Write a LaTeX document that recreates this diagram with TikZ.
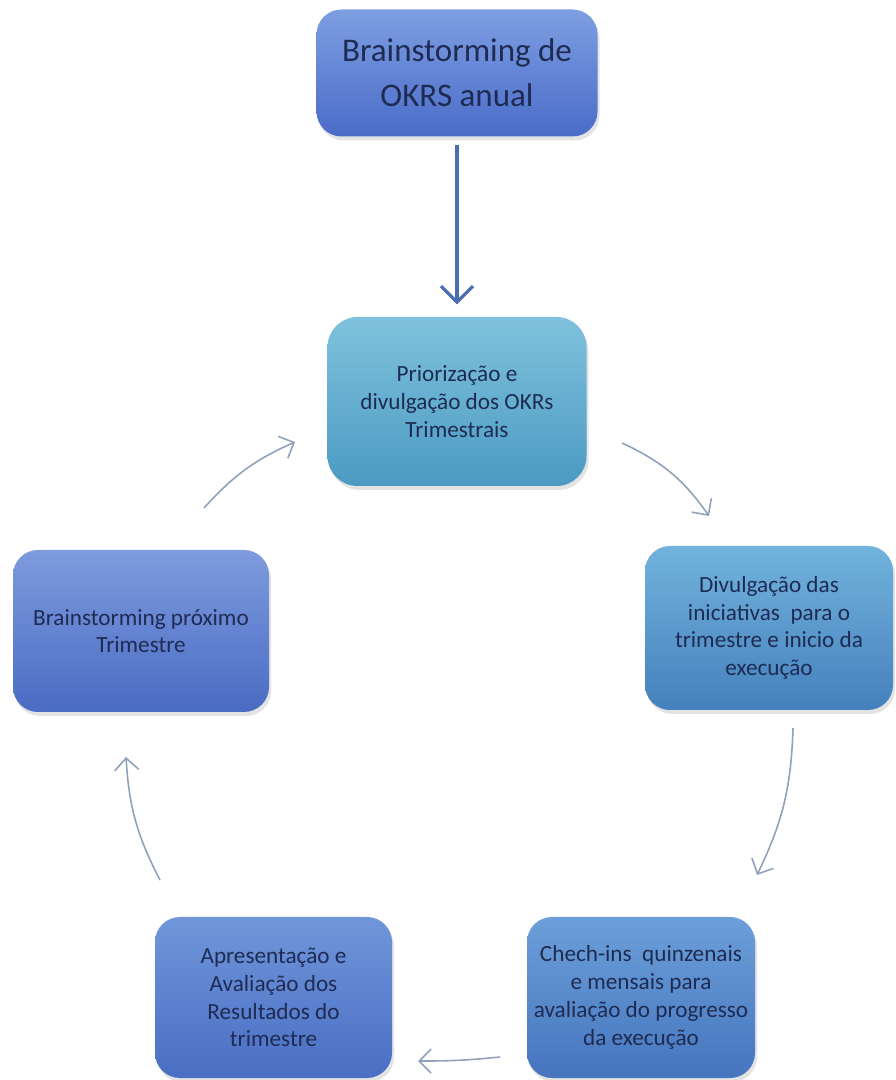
\documentclass[tikz,border=0pt]{standalone}
\usepackage{fontspec}
\setmainfont{Carlito}
\usetikzlibrary{arrows.meta,shadows}
\definecolor{txt}{HTML}{1E2B52}
\definecolor{arr}{HTML}{8FA2BA}
\definecolor{mainarr}{HTML}{4A6CB2}
\definecolor{okrT}{HTML}{7E9EE2}\definecolor{okrB}{HTML}{4A6CC8}
\definecolor{prioT}{HTML}{80C2DD}\definecolor{prioB}{HTML}{4B9AC2}
\definecolor{divT}{HTML}{72B3DD}\definecolor{divB}{HTML}{4580BC}
\definecolor{proxT}{HTML}{7E9BDE}\definecolor{proxB}{HTML}{4A6BC3}
\definecolor{chkT}{HTML}{6C9FD9}\definecolor{chkB}{HTML}{4675BE}
\definecolor{aprT}{HTML}{7096DA}\definecolor{aprB}{HTML}{4A6EC3}
\tikzset{
  box/.style={rounded corners=0.25cm, align=center, text=txt, inner sep=1pt,
    drop shadow={opacity=0.22, shadow xshift=0.02cm, shadow yshift=-0.04cm}},
  small/.style={font=\fontsize{6.6}{7.9}\selectfont},
  cyc/.style={draw=arr, line width=0.45pt, -{Straight Barb[length=1.2mm,width=2.4mm]}},
}
\begin{document}
\begin{tikzpicture}
\path[use as bounding box, fill=white] (0,0) rectangle (8.95,10.8);
% boxes
\node[box, top color=okrT, bottom color=okrB, minimum width=2.81cm, minimum height=1.27cm,
  font=\fontsize{9.4}{12.8}\selectfont] (okr) at (4.57,10.07) {Brainstorming de\\OKRS anual};
\node[box, small, top color=prioT, bottom color=prioB, minimum width=2.59cm, minimum height=1.69cm,
  rounded corners=0.3cm] (prio) at (4.57,6.785) {Priorização e\\divulgação dos OKRs\\Trimestrais};
\node[box, small, top color=divT, bottom color=divB, minimum width=2.48cm, minimum height=1.64cm]
  (div) at (7.69,4.52) {Divulgação das\\iniciativas\ \ para o\\trimestre e inicio da\\execução};
\node[box, small, top color=proxT, bottom color=proxB, minimum width=2.56cm, minimum height=1.62cm]
  (prox) at (1.41,4.49) {Brainstorming próximo\\Trimestre};
\node[box, small, top color=chkT, bottom color=chkB, minimum width=2.28cm, minimum height=1.61cm]
  (chk) at (6.41,0.825) {Chech-ins\ \ quinzenais\\e mensais para\\avaliação do progresso\\da execução};
\node[box, small, top color=aprT, bottom color=aprB, minimum width=2.37cm, minimum height=1.61cm]
  (apr) at (2.735,0.825) {Apresentação e\\Avaliação dos\\Resultados do\\trimestre};
% main arrow
\draw[mainarr, line width=0.9pt, -{Straight Barb[length=1.6mm,width=3.2mm]},
  shorten <=0.08cm, shorten >=0.12cm] (okr) -- (prio);
% ends of the cycle arrows
\coordinate (p1) at (6.22,6.37);  \coordinate (p2) at (7.09,5.64);
\coordinate (p3) at (7.93,3.52);  \coordinate (p4) at (7.57,2.05);
\coordinate (p5) at (5.00,0.23);  \coordinate (p6) at (4.18,0.19);
\coordinate (p7) at (1.60,2.00);  \coordinate (p8) at (1.26,3.23);
\coordinate (p9) at (2.04,5.72);  \coordinate (p10) at (2.95,6.38);
\foreach \a/\b/\bend in {p1/p2/15, p3/p4/12, p5/p6/3, p7/p8/12, p9/p10/12} % edit here for the cycle
\draw[cyc] (\a) to[bend left=\bend] (\b);
\end{tikzpicture}
\end{document}
